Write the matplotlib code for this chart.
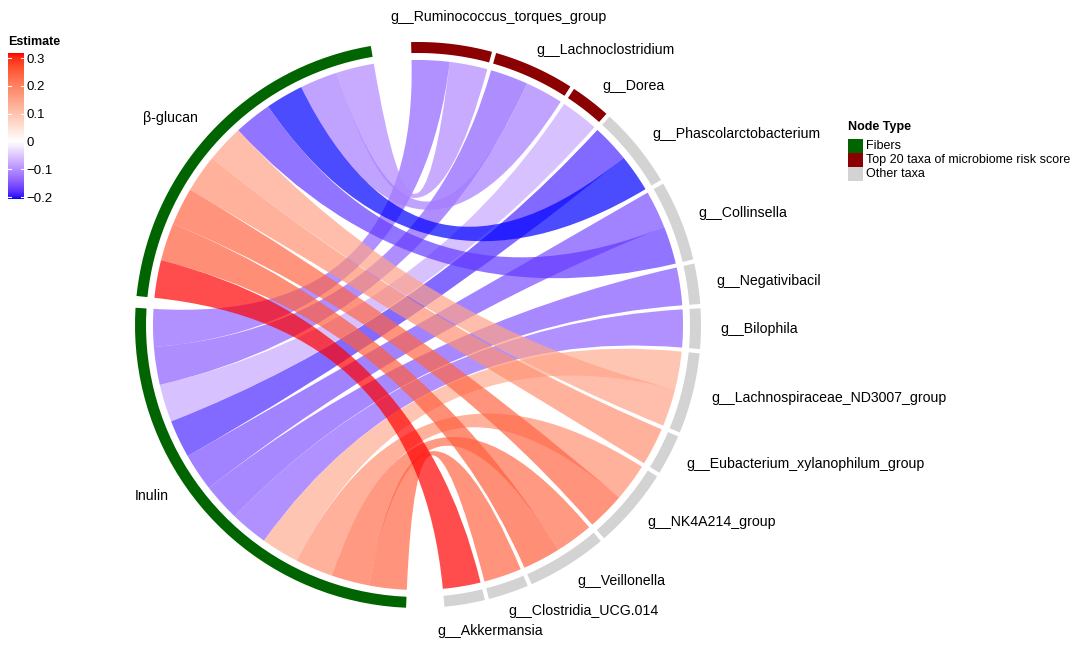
import numpy as np
import matplotlib.pyplot as plt
from matplotlib.path import Path
from matplotlib.patches import PathPatch, Polygon, Rectangle
from matplotlib.colors import LinearSegmentedColormap, TwoSlopeNorm

plt.rcParams['font.family'] = ['Liberation Sans', 'DejaVu Sans']

# taxa in clockwise order starting at the top
taxa = ['g__Ruminococcus_torques_group', 'g__Lachnoclostridium', 'g__Dorea',
        'g__Phascolarctobacterium', 'g__Collinsella', 'g__Negativibacil',
        'g__Bilophila', 'g__Lachnospiraceae_ND3007_group',
        'g__Eubacterium_xylanophilum_group', 'g__NK4A214_group',
        'g__Veillonella', 'g__Clostridia_UCG.014', 'g__Akkermansia']
top20_taxa = ['g__Ruminococcus_torques_group', 'g__Lachnoclostridium', 'g__Dorea']
fibers = ['Inulin', 'β-glucan']

# estimates per taxon (None = no link)
inulin_est = [-0.140, -0.143, -0.078, -0.186, -0.157, -0.151, -0.140,
              0.135, None, 0.180, 0.230, 0.240, None]
bglucan_est = [-0.106, -0.118, None, -0.207, -0.176, None, None,
               0.150, 0.180, 0.240, 0.250, None, 0.318]

type_names = ['Fibers', 'Top 20 taxa of microbiome risk score', 'Other taxa']
type_colors = ['#006400', '#8b0000', '#d3d3d3']


# blue - white - red ramp interpolated in Lab (like ggplot)
M = np.array([[0.4124, 0.3576, 0.1805], [0.2126, 0.7152, 0.0722], [0.0193, 0.1192, 0.9505]])
WP = np.array([0.95047, 1.0, 1.08883])

def to_lab(c):
    c = np.asarray(c, float)
    lin = np.where(c <= 0.04045, c / 12.92, ((c + 0.055) / 1.055) ** 2.4)
    xyz = M @ lin / WP
    f = np.where(xyz > 0.008856, np.cbrt(xyz), 7.787 * xyz + 16 / 116)
    return np.array([116 * f[1] - 16, 500 * (f[0] - f[1]), 200 * (f[1] - f[2])])

def from_lab(lab):
    L, a, b = lab
    fy = (L + 16) / 116
    f = np.array([fy + a / 500, fy, fy - b / 200])
    xyz = np.where(f ** 3 > 0.008856, f ** 3, (f - 16 / 116) / 7.787) * WP
    lin = np.clip(np.linalg.solve(M, xyz), 0, 1)
    return np.where(lin <= 0.0031308, 12.92 * lin, 1.055 * lin ** (1 / 2.4) - 0.055)

blue, white, red = to_lab([0, 0, 1]), to_lab([1, 1, 1]), to_lab([1, 0, 0])
ramp = [from_lab(blue + (white - blue) * t) for t in np.linspace(0, 1, 128)]
ramp += [from_lab(white + (red - white) * t) for t in np.linspace(0, 1, 128)]
cmap = LinearSegmentedColormap.from_list('est', ramp)

links = []
for i, t in enumerate(taxa):
    for f, est in (('Inulin', inulin_est[i]), ('β-glucan', bglucan_est[i])):
        if est is not None:
            links.append((f, i, est))

all_est = [l[2] for l in links]
norm = TwoSlopeNorm(vmin=min(all_est), vcenter=0, vmax=max(all_est))

# layout (pixel coordinates, y down)
cx, cy = 418, 325
r_out, r_in, r_link = 283, 272, 265
order = taxa + fibers
gap_after = [0.87] * 12 + [7.8, 2.4, 8.2]
n_links = {name: 0 for name in order}
for f, i, e in links:
    n_links[f] += 1
    n_links[taxa[i]] += 1
unit = (360 - sum(gap_after)) / (2 * len(links))

sectors = {}
a = 91.4
for name, g in zip(order, gap_after):
    sectors[name] = (a, a - n_links[name] * unit)
    a -= n_links[name] * unit + g

# slot of each link inside its two sectors
slot = {}
for f in fibers:
    fl = sorted([l for l in links if l[0] == f], key=lambda l: -l[1])
    a0 = sectors[f][0]
    for l in fl:
        slot[(l, 'f')] = (a0, a0 - unit)
        a0 -= unit
for i, t in enumerate(taxa):
    tl = [l for l in links if l[1] == i]
    tl.sort(key=lambda l: fibers.index(l[0]))
    a0 = sectors[t][0]
    for l in tl:
        slot[(l, 't')] = (a0, a0 - unit)
        a0 -= unit


def pt(ang, r):
    th = np.radians(ang)
    return cx + r * np.cos(th), cy - r * np.sin(th)

def arc(a0, a1, r, n=40):
    return [pt(x, r) for x in np.linspace(a0, a1, n)]


fig = plt.figure(figsize=(10.8, 6.47), dpi=100)
ax = fig.add_axes([0, 0, 1, 1])
ax.set_xlim(0, 1080)
ax.set_ylim(647, 0)
ax.axis('off')

# chords
for l in links:
    s0, s1 = slot[(l, 'f')]
    t0, t1 = slot[(l, 't')]
    sa = arc(s0, s1, r_link)
    ta = arc(t0, t1, r_link)
    verts = sa + [(cx, cy), ta[0]] + ta[1:] + [(cx, cy), sa[0], sa[0]]
    codes = ([Path.MOVETO] + [Path.LINETO] * (len(sa) - 1) + [Path.CURVE3] * 2
             + [Path.LINETO] * (len(ta) - 1) + [Path.CURVE3] * 2 + [Path.CLOSEPOLY])
    ax.add_patch(PathPatch(Path(verts, codes), facecolor=cmap(norm(l[2])),
                           alpha=0.7, edgecolor='none'))

# outer track + labels
fig.canvas.draw()
renderer = fig.canvas.get_renderer()
label_nudge = {'Inulin': -7.5}
for name in order:
    a0, a1 = sectors[name]
    if name in fibers:
        col = type_colors[0]
    elif name in top20_taxa:
        col = type_colors[1]
    else:
        col = type_colors[2]
    ax.add_patch(Polygon(arc(a0, a1, r_out) + arc(a1, a0, r_in), closed=True,
                         facecolor=col, edgecolor='none'))
    mid = (a0 + a1) / 2 + label_nudge.get(name, 0)
    c = np.cos(np.radians(mid))
    if abs(c) < 0.2:
        x, y = pt(mid, 310)
        txt = ax.text(x, y, name, fontsize=10.2, ha='left', va='center')
        w = txt.get_window_extent(renderer).width
        txt.set_x(x - 0.3 * w)
    else:
        x, y = pt(mid, 302)
        txt = ax.text(x, y, name, fontsize=10.2, ha='left' if c > 0 else 'right', va='center')
        if 0 < c < 0.5:
            w = txt.get_window_extent(renderer).width
            txt.set_x(x - 0.04 * w)

# Node Type legend
ax.text(848, 127, 'Node Type', fontsize=9, fontweight='bold', va='center')
for k, (nm, col) in enumerate(zip(type_names, type_colors)):
    y0 = 139 + k * 14.2
    ax.add_patch(Rectangle((848, y0), 14.5, 13.5, facecolor=col, edgecolor='none'))
    ax.text(866, y0 + 7, nm, fontsize=9, va='center')

# Estimate colorbar
ax.text(8, 42, 'Estimate', fontsize=9, fontweight='bold', va='center')
cax = fig.add_axes([8 / 1080, 1 - 199 / 647, 16 / 1080, 146 / 647])
vals = np.linspace(norm.vmin, norm.vmax, 300)
cax.imshow(vals[:, None], cmap=cmap, norm=norm, aspect='auto', origin='lower',
           extent=[0, 1, norm.vmin, norm.vmax])
ticks = [-0.2, -0.1, 0, 0.1, 0.2, 0.3]
for v in ticks:
    cax.plot([0, 0.2], [v, v], color='white', lw=0.8)
    cax.plot([0.8, 1], [v, v], color='white', lw=0.8)
cax.set_xlim(0, 1)
cax.set_ylim(norm.vmin, norm.vmax)
cax.set_xticks([])
cax.yaxis.tick_right()
cax.set_yticks(ticks)
cax.set_yticklabels(['\u22120.2', '\u22120.1', '0', '0.1', '0.2', '0.3'])
cax.tick_params(length=0, labelsize=9.5, pad=2)
for s in cax.spines.values():
    s.set_visible(False)

fig.savefig('out.png', dpi=100)
